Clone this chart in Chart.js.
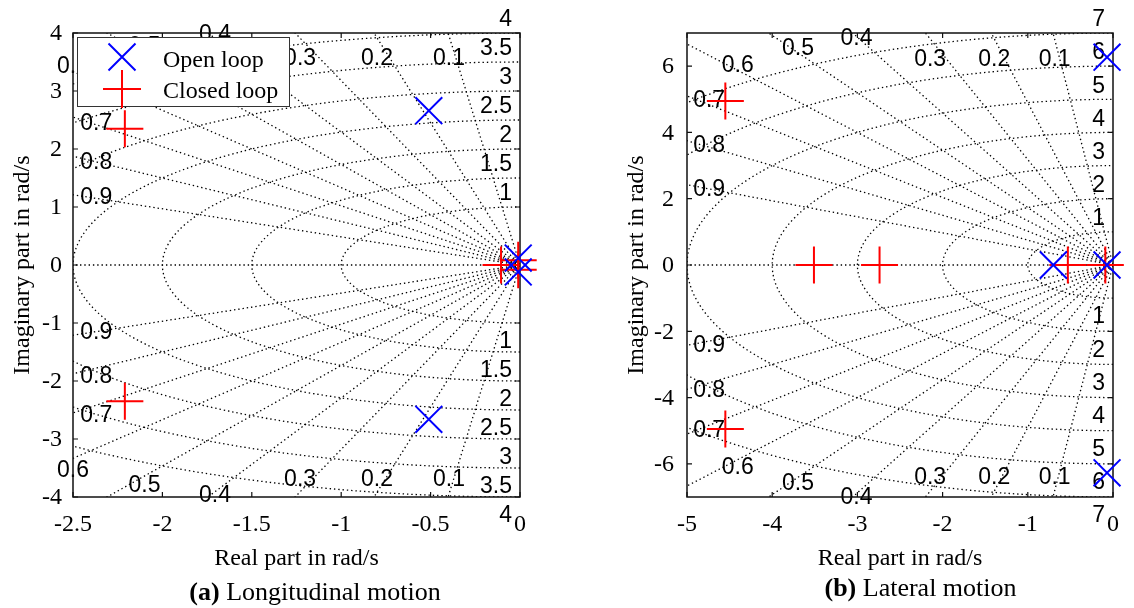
<!DOCTYPE html>
<html><head><meta charset="utf-8">
<script src="https://cdn.jsdelivr.net/npm/chart.js@4.4.1/dist/chart.umd.min.js"></script>
<style>
html,body{margin:0;padding:0;background:#fff;}
#wrap{position:relative;width:1134px;height:608px;overflow:hidden;background:#fff;}
canvas{position:absolute;top:0;}
</style></head><body>
<div id="wrap">
<canvas id="ca" width="567" height="608" style="left:0"></canvas>
<canvas id="cb" width="567" height="608" style="left:567px"></canvas>
</div>
<script>
// ---------- data ----------
const dampingRatios = [0.1, 0.2, 0.3, 0.4, 0.5, 0.6, 0.7, 0.8, 0.9];
const naturalFreqLon = [1, 1.5, 2, 2.5, 3, 3.5, 4];
const naturalFreqLat = [1, 2, 3, 4, 5, 6, 7];
const xTicksLon = [-2.5, -2, -1.5, -1, -0.5, 0];
const yTicksLon = [-4, -3, -2, -1, 0, 1, 2, 3, 4];
const xTicksLat = [-5, -4, -3, -2, -1, 0];
const yTicksLat = [-6, -4, -2, 0, 2, 4, 6];
const openLoopLonRe = [-0.51, -0.51, -0.01, -0.01];
const openLoopLonIm = [2.66, -2.66, 0.12, -0.12];
const closedLoopLonRe = [-2.21, -2.21, -0.106, -0.01, -0.01];
const closedLoopLonIm = [2.35, -2.35, 0, 0.08, -0.08];
const openLoopLatRe = [-0.07, -0.07, -0.70, -0.07];
const openLoopLatIm = [6.27, -6.27, 0, 0];
const closedLoopLatRe = [-4.55, -4.55, -3.51, -2.74, -0.53, -0.09];
const closedLoopLatIm = [4.95, -4.95, 0, 0, 0, 0];
const seriesNames = ['Open loop', 'Closed loop'];
const xTitle = 'Real part in rad/s';
const yTitle = 'Imaginary part in rad/s';
const captionLon = ['(a)', ' Longitudinal motion'];
const captionLat = ['(b)', ' Lateral motion'];

// ---------- layout (label placement, data units: [x, yUpper, yLower]) ----------
const zetaLabelPosLon = [[-0.397,3.55,-3.70],[-0.80,3.55,-3.70],[-1.23,3.55,-3.70],[-1.706,3.98,-3.98],[-2.10,3.77,-3.81],[-2.50,3.42,-3.55],[-2.37,2.44,-2.59],[-2.37,1.77,-1.93],[-2.37,1.165,-1.165]];
const zetaLabelPosLat = [[-0.685,6.21,-6.42],[-1.393,6.21,-6.42],[-2.146,6.21,-6.42],[-3.011,6.82,-7.03],[-3.697,6.52,-6.6],[-4.404,6.0,-6.12],[-4.74,4.97,-5.0],[-4.74,3.61,-3.79],[-4.74,2.27,-2.42]];

const SERIF = '"Liberation Serif", "Times New Roman", serif';
const SANS = '"Liberation Sans", Arial, sans-serif';
const BLUE = '#0000ff', RED = '#ff0000';

function toPoints(re, im) { return re.map((r, i) => ({x: r, y: im[i]})); }

function sgridPlugin(cfg) {
  return {
    id: 'sgrid',
    beforeDatasetsDraw(chart) {
      const ctx = chart.ctx, a = chart.chartArea, xs = chart.scales.x, ys = chart.scales.y;
      const px = v => xs.getPixelForValue(v), py = v => ys.getPixelForValue(v);
      const ox = px(0), oy = py(0);
      const kx = px(1) - ox, ky = oy - py(1);
      // dotted grid
      ctx.save();
      ctx.beginPath(); ctx.rect(a.left, a.top, a.right - a.left, a.bottom - a.top); ctx.clip();
      ctx.strokeStyle = '#000'; ctx.lineWidth = 1.3; ctx.setLineDash([1.4, 2.9]);
      const R = 100;
      cfg.zetas.forEach(z => {
        [1, -1].forEach(s => {
          ctx.beginPath(); ctx.moveTo(ox, oy);
          ctx.lineTo(px(-R * z), py(s * R * Math.sqrt(1 - z * z)));
          ctx.stroke();
        });
      });
      ctx.beginPath(); ctx.moveTo(ox, oy); ctx.lineTo(px(-R), oy); ctx.stroke();
      cfg.wns.forEach(w => {
        ctx.beginPath();
        ctx.ellipse(ox, oy, w * kx, w * ky, 0, Math.PI / 2, Math.PI * 1.5);
        ctx.stroke();
      });
      ctx.restore();
      // grid labels
      ctx.save();
      ctx.fillStyle = '#000';
      ctx.font = '23px ' + SANS;
      ctx.textAlign = 'center'; ctx.textBaseline = 'middle';
      cfg.zetas.forEach((z, i) => {
        const p = cfg.zetaPos[i];
        ctx.fillText(String(z), px(p[0]), py(p[1]));
        ctx.fillText(String(z), px(p[0]), py(p[2]));
      });
      ctx.textAlign = 'right';
      cfg.wns.forEach(w => {
        ctx.fillText(String(w), a.right - 8, py(w) - 13);
        ctx.fillText(String(w), a.right - 8, py(-w) + 19);
      });
      // box + inward ticks
      ctx.strokeStyle = '#111'; ctx.lineWidth = 1.5;
      ctx.strokeRect(a.left, a.top, a.right - a.left, a.bottom - a.top);
      ctx.lineWidth = 1.2;
      ctx.beginPath();
      cfg.xTicks.forEach(t => {
        const x = px(t);
        ctx.moveTo(x, a.bottom); ctx.lineTo(x, a.bottom - 5);
        ctx.moveTo(x, a.top); ctx.lineTo(x, a.top + 5);
      });
      cfg.yTicks.forEach(t => {
        const y = py(t);
        ctx.moveTo(a.left, y); ctx.lineTo(a.left + 5, y);
        ctx.moveTo(a.right, y); ctx.lineTo(a.right - 5, y);
      });
      ctx.stroke();
      // tick labels
      ctx.font = '24px ' + SERIF;
      ctx.textAlign = 'center'; ctx.textBaseline = 'alphabetic';
      cfg.xTicks.forEach(t => ctx.fillText(String(t), px(t), a.bottom + 34));
      ctx.textAlign = 'right'; ctx.textBaseline = 'middle';
      cfg.yTicks.forEach(t => ctx.fillText(String(t), a.left - cfg.yGap, py(t) + 1));
      // axis titles
      ctx.textAlign = 'center'; ctx.textBaseline = 'alphabetic';
      ctx.fillText(xTitle, (a.left + a.right) / 2, a.bottom + 68);
      ctx.save();
      ctx.translate(a.left - 44, (a.top + a.bottom) / 2);
      ctx.rotate(-Math.PI / 2);
      ctx.fillText(yTitle, 0, 0);
      ctx.restore();
      // caption
      ctx.font = 'bold 26px ' + SERIF;
      const w1 = ctx.measureText(cfg.caption[0]).width;
      ctx.font = '26px ' + SERIF;
      const w2 = ctx.measureText(cfg.caption[1]).width;
      const sx = cfg.capX - (w1 + w2) / 2;
      ctx.textAlign = 'left';
      ctx.font = 'bold 26px ' + SERIF;
      ctx.fillText(cfg.caption[0], sx, cfg.capY);
      ctx.font = '26px ' + SERIF;
      ctx.fillText(cfg.caption[1], sx + w1, cfg.capY);
      ctx.restore();
    },
    afterDatasetsDraw(chart) {
      if (!cfg.legend) return;
      const ctx = chart.ctx;
      ctx.save();
      ctx.fillStyle = '#fff';
      ctx.fillRect(77, 37, 213, 70);
      ctx.strokeStyle = '#333'; ctx.lineWidth = 1;
      ctx.strokeRect(77.5, 37.5, 212, 69);
      ctx.lineWidth = 2;
      ctx.strokeStyle = BLUE;
      ctx.beginPath();
      ctx.moveTo(108.5, 43.5); ctx.lineTo(135.5, 70.5);
      ctx.moveTo(135.5, 43.5); ctx.lineTo(108.5, 70.5);
      ctx.stroke();
      ctx.strokeStyle = RED;
      ctx.beginPath();
      ctx.moveTo(103, 89); ctx.lineTo(141, 89);
      ctx.moveTo(122, 70); ctx.lineTo(122, 108);
      ctx.stroke();
      ctx.fillStyle = '#000';
      ctx.font = '24px ' + SERIF;
      ctx.textAlign = 'left'; ctx.textBaseline = 'alphabetic';
      ctx.fillText(seriesNames[0], 163, 67);
      ctx.fillText(seriesNames[1], 163, 98);
      ctx.restore();
    }
  };
}

function makeChart(id, cfg) {
  return new Chart(document.getElementById(id), {
    type: 'scatter',
    data: {
      datasets: [
        { label: seriesNames[0], data: toPoints(cfg.olRe, cfg.olIm), pointStyle: 'crossRot',
          pointRadius: 19, pointHoverRadius: 19, pointBorderWidth: 2, pointHoverBorderWidth: 2,
          borderColor: BLUE, backgroundColor: BLUE, pointBorderColor: BLUE, clip: false },
        { label: seriesNames[1], data: toPoints(cfg.clRe, cfg.clIm), pointStyle: 'cross',
          pointRadius: 18.5, pointHoverRadius: 18.5, pointBorderWidth: 2, pointHoverBorderWidth: 2,
          borderColor: RED, backgroundColor: RED, pointBorderColor: RED, clip: false }
      ]
    },
    options: {
      responsive: false, animation: false, devicePixelRatio: 1,
      events: [],
      layout: { padding: cfg.padding },
      plugins: { legend: { display: false }, tooltip: { enabled: false }, title: { display: false } },
      scales: {
        x: { type: 'linear', min: cfg.xMin, max: 0, display: false },
        y: { type: 'linear', min: cfg.yMin, max: cfg.yMax, display: false }
      }
    },
    plugins: [sgridPlugin(cfg)]
  });
}

makeChart('ca', {
  olRe: openLoopLonRe, olIm: openLoopLonIm, clRe: closedLoopLonRe, clIm: closedLoopLonIm,
  zetas: dampingRatios, wns: naturalFreqLon, zetaPos: zetaLabelPosLon,
  xTicks: xTicksLon, yTicks: yTicksLon, xMin: -2.5, yMin: -4, yMax: 4,
  padding: { left: 73, right: 47, top: 33, bottom: 111 }, yGap: 11,
  caption: captionLon, capX: 315, capY: 600, legend: true
});
makeChart('cb', {
  olRe: openLoopLatRe, olIm: openLoopLatIm, clRe: closedLoopLatRe, clIm: closedLoopLatIm,
  zetas: dampingRatios, wns: naturalFreqLat, zetaPos: zetaLabelPosLat,
  xTicks: xTicksLat, yTicks: yTicksLat, xMin: -5, yMin: -7, yMax: 7,
  padding: { left: 120, right: 2, top: 33, bottom: 111 }, yGap: 13,
  caption: captionLat, capX: 353.5, capY: 596, legend: false
});
</script>
</body></html>
